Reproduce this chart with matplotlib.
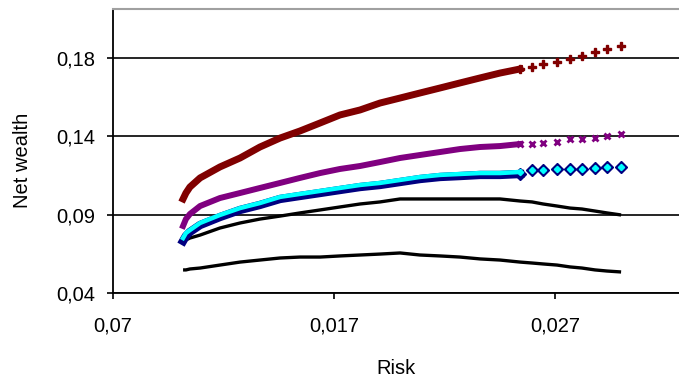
import numpy as np
import matplotlib
matplotlib.use('Agg')
import matplotlib.pyplot as plt

plt.rcParams['font.family'] = ['Liberation Sans', 'DejaVu Sans']

# Data (risk on x, net wealth on y)
risk = [0.01017, 0.01030, 0.01048, 0.01094, 0.01184, 0.01275, 0.01365, 0.01456,
        0.01546, 0.01637, 0.01727, 0.01818, 0.01908, 0.01999, 0.02089, 0.02180,
        0.02270, 0.02361, 0.02451, 0.02542,
        0.02596, 0.02646, 0.02709, 0.02768, 0.02822, 0.02881, 0.02935, 0.02999]
n_dense = 20  # points after this are drawn as separate markers

red = [0.0999, 0.1037, 0.1075, 0.1133, 0.1203, 0.1260, 0.1330, 0.1387,
       0.1432, 0.1483, 0.1534, 0.1566, 0.1610, 0.1642, 0.1674, 0.1706,
       0.1738, 0.1770, 0.1801, 0.1827,
       0.1840, 0.1859, 0.1871, 0.1891, 0.1910, 0.1935, 0.1954, 0.1973]

purple = [0.0827, 0.0871, 0.0903, 0.0954, 0.1005, 0.1037, 0.1069, 0.1101,
          0.1133, 0.1164, 0.1190, 0.1209, 0.1234, 0.1260, 0.1279, 0.1298,
          0.1317, 0.1330, 0.1336, 0.1349,
          0.1349, 0.1356, 0.1362, 0.1381, 0.1384, 0.1387, 0.1400, 0.1413]

navy = [0.0731, 0.0763, 0.0789, 0.0833, 0.0884, 0.0929, 0.0961, 0.0999,
        0.1018, 0.1037, 0.1056, 0.1075, 0.1088, 0.1107, 0.1126, 0.1139,
        0.1145, 0.1152, 0.1152, 0.1158,
        0.1184, 0.1184, 0.1190, 0.1190, 0.1190, 0.1196, 0.1203, 0.1203]

cyan = [0.0750, 0.0782, 0.0801, 0.0846, 0.0897, 0.0941, 0.0973, 0.1012,
        0.1031, 0.1050, 0.1069, 0.1088, 0.1101, 0.1120, 0.1139, 0.1152,
        0.1158, 0.1164, 0.1164, 0.1171,
        0.1184, 0.1184, 0.1190, 0.1190, 0.1190, 0.1196, 0.1203, 0.1203]

black_upper = [0.0725, 0.0738, 0.0750, 0.0769, 0.0814, 0.0846, 0.0871, 0.0890,
               0.0910, 0.0929, 0.0948, 0.0967, 0.0980, 0.0999, 0.0999, 0.0999,
               0.0999, 0.0999, 0.0999, 0.0986,
               0.0980, 0.0967, 0.0954, 0.0941, 0.0935, 0.0922, 0.0910, 0.0897]

black_lower = [0.0547, 0.0547, 0.0553, 0.0559, 0.0578, 0.0597, 0.0610, 0.0623,
               0.0629, 0.0629, 0.0636, 0.0642, 0.0648, 0.0655, 0.0642, 0.0636,
               0.0629, 0.0617, 0.0610, 0.0597,
               0.0591, 0.0585, 0.0578, 0.0566, 0.0559, 0.0547, 0.0540, 0.0534]

x_ticks = [0.007, 0.017, 0.027]
x_labels = ['0,07', '0,017', '0,027']
y_ticks = [0.04, 0.09, 0.14, 0.19]
y_labels = ['0,04', '0,09', '0,14', '0,18']

fig = plt.figure(figsize=(6.79, 3.80), dpi=100)
ax = fig.add_axes([113 / 679, 87 / 380, 566 / 679, 284 / 380])

x = np.array(risk)

# black curves
ax.plot(x, black_lower, color='black', lw=2.4, solid_capstyle='butt', zorder=3)
ax.plot(x, black_upper, color='black', lw=2.4, solid_capstyle='butt', zorder=3)

# navy + cyan pair
ax.plot(x[:n_dense], navy[:n_dense], color='#000080', lw=6.0, zorder=4)
ax.plot(x[n_dense - 1:], navy[n_dense - 1:], ls='none', marker='D', ms=6,
        color='#000080', zorder=4)
ax.plot(x[:n_dense], cyan[:n_dense], color='#00FFFF', lw=3.2, zorder=5)
ax.plot(x[n_dense - 1:], cyan[n_dense - 1:], ls='none', marker='D', ms=3.2,
        color='#00FFFF', zorder=5)

# purple
ax.plot(x[:n_dense], purple[:n_dense], color='#800080', lw=4.3, zorder=6)
ax.plot(x[n_dense - 1:], purple[n_dense - 1:], ls='none', marker='x', ms=4,
        mew=2.0, color='#800080', zorder=6)

# dark red
ax.plot(x[:n_dense], red[:n_dense], color='#800000', lw=5.0, zorder=7)
ax.plot(x[n_dense - 1:], red[n_dense - 1:], ls='none', marker='P', ms=6,
        color='#800000', zorder=7)

ax.set_xlim(0.007, 0.03261)
ax.set_ylim(0.04, 0.2209)

ax.set_xticks(x_ticks)
ax.set_xticklabels(x_labels)
ax.set_yticks(y_ticks)
ax.set_yticklabels(y_labels)
ax.tick_params(axis='x', direction='out', length=4, width=1.2, pad=13, labelsize=14.5)
ax.tick_params(axis='y', direction='out', length=4, width=1.2, pad=9, labelsize=14.5)

ax.yaxis.grid(True, color='black', lw=1.2)
ax.set_axisbelow(True)

for side in ['left', 'bottom']:
    ax.spines[side].set_color('black')
    ax.spines[side].set_linewidth(1.3)
ax.spines['top'].set_color('#a0a0a0')
ax.spines['top'].set_linewidth(1.5)
ax.spines['right'].set_visible(False)

fig.text(396 / 679, 1 - 368 / 380, 'Risk', ha='center', va='center', fontsize=14.5)
fig.text(22 / 679, 1 - 160 / 380, 'Net wealth', ha='center', va='center',
         rotation=90, fontsize=14.5)

fig.savefig('out.png', dpi=100)
